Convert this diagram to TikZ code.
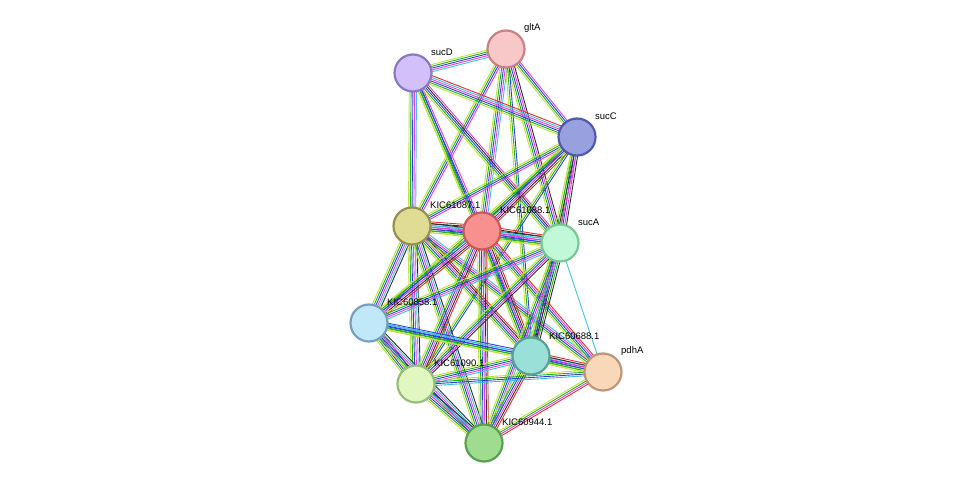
\documentclass[tikz,border=0pt]{standalone}
\usepackage{fontspec}
\setmainfont{Liberation Sans}
\usetikzlibrary{calc}
\definecolor{ek}{HTML}{303030}
\definecolor{eg}{HTML}{20B020}
\definecolor{eb}{HTML}{3040E0}
\definecolor{em}{HTML}{E040E0}
\definecolor{ec}{HTML}{40C0E0}
\definecolor{ey}{HTML}{C0E040}
\definecolor{er}{HTML}{E03030}
\newcommand\bundle[4]{%
  \foreach \c [count=\i] in {#4} {%
    \pgfmathsetmacro\o{(\i-(#3+1)/2)*1.8}
    \draw[draw=\c,line width=0.9pt] ($(#1)!\o pt!90:(#2)$) -- ($(#2)!\o pt!-90:(#1)$);
  }}
\tikzset{
  prot/.style={circle,minimum size=37pt,inner sep=0pt,line width=2.2pt},
  lab/.style={anchor=west,font=\fontsize{9.5pt}{11pt}\selectfont,inner sep=0pt}
}
\begin{document}
\begin{tikzpicture}[x=1pt,y=-1pt]
\useasboundingbox (0,0) rectangle (976,489);
\fill[white] (0,0) rectangle (976,489);
\coordinate (gltA) at (506,49);
\coordinate (sucD) at (413,73);
\coordinate (sucC) at (577,137);
\coordinate (k87) at (412,226);
\coordinate (k88) at (482,231);
\coordinate (sucA) at (560,243);
\coordinate (k58) at (369,323);
\coordinate (k688) at (531,356);
\coordinate (pdhA) at (603,372);
\coordinate (k90) at (416,384);
\coordinate (k44) at (484,443);
% edges
\bundle{gltA}{sucD}{5}{ey,eg,eb,em,ec}
\bundle{gltA}{sucC}{4}{ey,eg,eb,em}
\bundle{gltA}{k87}{4}{ey,eg,eb,em}
\bundle{gltA}{k88}{5}{ey,eg,eb,em,ec}
\bundle{gltA}{sucA}{5}{ey,eg,eb,em,ek}
\bundle{gltA}{k688}{3}{ey,eg,eb}
\bundle{sucD}{sucC}{6}{ey,eg,eb,em,ec,er}
\bundle{sucD}{k87}{5}{ey,eg,eb,em,ec}
\bundle{sucD}{k88}{4}{ey,eg,eb,em}
\bundle{sucD}{sucA}{5}{ey,eg,eb,ek,em}
\bundle{sucD}{k688}{3}{ey,eg,eb}
\bundle{sucC}{k87}{4}{ey,eg,eb,em}
\bundle{sucC}{k88}{6}{ey,eg,eb,em,ek,er}
\bundle{sucC}{sucA}{5}{ey,eg,eb,em,ek}
\bundle{sucC}{k688}{4}{ey,eg,ek,em}
\bundle{sucC}{k58}{3}{ey,eg,eb}
\bundle{sucC}{k90}{3}{ey,eg,eb}
\bundle{k87}{k88}{7}{ey,eg,eb,em,ec,ek,er}
\bundle{k87}{sucA}{6}{ey,eg,eb,em,ec,ek}
\bundle{k87}{k58}{6}{ey,eg,eb,em,ec,ek}
\bundle{k87}{k688}{6}{ey,eg,eb,em,ek,er}
\bundle{k87}{pdhA}{5}{ey,eg,eb,em,ec}
\bundle{k87}{k90}{6}{ey,eg,eb,em,ec,ek}
\bundle{k87}{k44}{6}{ey,eg,eb,em,ec,ek}
\bundle{k88}{sucA}{7}{ey,eg,eb,em,ec,ek,er}
\bundle{k88}{k58}{6}{ey,eg,eb,em,ek,er}
\bundle{k88}{k688}{6}{ey,eg,eb,em,ek,er}
\bundle{k88}{pdhA}{5}{ey,eg,eb,em,er}
\bundle{k88}{k90}{6}{ey,eg,eb,em,ek,er}
\bundle{k88}{k44}{6}{ey,eg,eb,em,ek,er}
\bundle{sucA}{k58}{5}{ey,eg,eb,em,ec}
\bundle{sucA}{k688}{6}{ey,eg,eb,ek,eg,ek}
\bundle{sucA}{pdhA}{1}{ec}
\bundle{sucA}{k90}{5}{ey,eg,eb,em,ek}
\bundle{sucA}{k44}{5}{ey,eg,eb,em,ec}
\bundle{k58}{k688}{5}{ey,eg,eb,ec,eb}
\bundle{k58}{pdhA}{4}{ey,eg,eb,ec}
\bundle{k58}{k90}{6}{ey,eg,eb,em,ec,ek}
\bundle{k58}{k44}{6}{ey,eg,eb,em,ec,ek}
\bundle{k688}{pdhA}{6}{ey,eg,eb,em,ek,er}
\bundle{k688}{k90}{5}{ey,eg,eb,em,ec}
\bundle{k688}{k44}{6}{ey,eg,eb,em,ek,er}
\bundle{pdhA}{k90}{4}{ey,eg,eb,ec}
\bundle{pdhA}{k44}{4}{ey,eg,em,er}
\bundle{k90}{k44}{6}{ey,eg,eb,em,ec,ek}
% nodes
\node[prot,fill={rgb,255:red,248;green,200;blue,200},draw={rgb,255:red,200;green,130;blue,130}] (nGltA) at (gltA) {};
\node[prot,fill={rgb,255:red,210;green,192;blue,250},draw={rgb,255:red,140;green,120;blue,190}] (nSucD) at (sucD) {};
\node[prot,fill={rgb,255:red,152;green,160;blue,224},draw={rgb,255:red,80;green,90;blue,170}] (nSucC) at (sucC) {};
\node[prot,fill={rgb,255:red,224;green,220;blue,150},draw={rgb,255:red,150;green,145;blue,80}] (n87) at (k87) {};
\node[prot,fill={rgb,255:red,248;green,144;blue,144},draw={rgb,255:red,200;green,90;blue,90}] (n88) at (k88) {};
\node[prot,fill={rgb,255:red,192;green,248;blue,216},draw={rgb,255:red,120;green,200;blue,150}] (nSucA) at (sucA) {};
\node[prot,fill={rgb,255:red,192;green,232;blue,248},draw={rgb,255:red,120;green,160;blue,190}] (n58) at (k58) {};
\node[prot,fill={rgb,255:red,152;green,224;blue,216},draw={rgb,255:red,90;green,160;blue,150}] (n688) at (k688) {};
\node[prot,fill={rgb,255:red,248;green,216;blue,184},draw={rgb,255:red,190;green,150;blue,120}] (nPdhA) at (pdhA) {};
\node[prot,fill={rgb,255:red,224;green,248;blue,192},draw={rgb,255:red,150;green,190;blue,120}] (n90) at (k90) {};
\node[prot,fill={rgb,255:red,160;green,220;blue,144},draw={rgb,255:red,90;green,160;blue,80}] (n44) at (k44) {};
% labels
\node[lab] (lGltA) at (524,28) {gltA};
\node[lab] (lSucD) at (431,52) {sucD};
\node[lab] (lSucC) at (595,116) {sucC};
\node[lab] (l87) at (430,205) {KIC61087.1};
\node[lab] (l88) at (500,210) {KIC61088.1};
\node[lab] (lSucA) at (578,222) {sucA};
\node[lab] (l58) at (387,302) {KIC60858.1};
\node[lab] (l688) at (549,336) {KIC60688.1};
\node[lab] (lPdhA) at (621,351) {pdhA};
\node[lab] (l90) at (434,363) {KIC61090.1};
\node[lab] (l44) at (502,422) {KIC60944.1};
\end{tikzpicture}
\end{document}
